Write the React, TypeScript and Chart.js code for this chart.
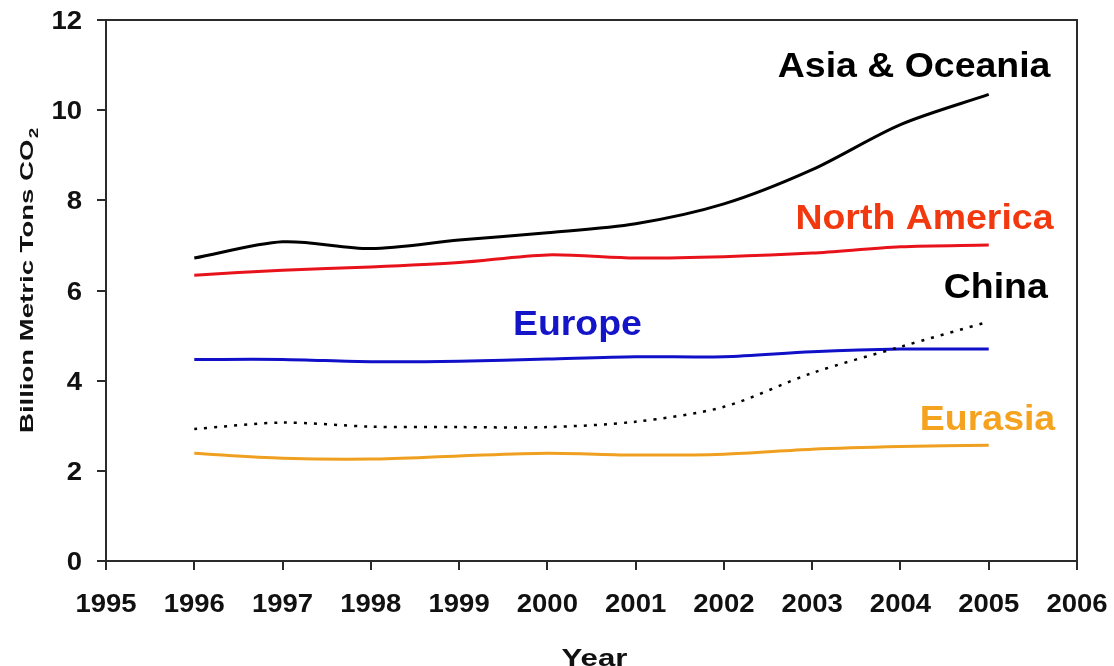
import React, { useEffect, useRef } from 'react';
import { Chart, registerables } from 'chart.js';

Chart.register(...registerables);

// ---- Data (billion metric tons CO2) ----
const years = [1996, 1997, 1998, 1999, 2000, 2001, 2002, 2003, 2004, 2005];
const asiaOceania = [6.72, 7.08, 6.93, 7.12, 7.28, 7.48, 7.92, 8.68, 9.68, 10.35];
const northAmerica = [6.34, 6.45, 6.52, 6.62, 6.79, 6.72, 6.75, 6.83, 6.97, 7.01];
const europe = [4.47, 4.47, 4.42, 4.43, 4.48, 4.53, 4.53, 4.64, 4.7, 4.7];
const china = [2.93, 3.07, 2.98, 2.97, 2.97, 3.09, 3.42, 4.17, 4.75, 5.31];
const eurasia = [2.39, 2.28, 2.26, 2.33, 2.39, 2.35, 2.37, 2.48, 2.54, 2.57];

const xMin = 1995;
const xMax = 2006;
const yMin = 0;
const yMax = 12;

// Series labels drawn inside the plot (anchored in data units)
const labelTexts = ['Asia & Oceania', 'North America', 'China', 'Europe', 'Eurasia'];
const labelYears = [2002.61, 2002.81, 2004.49, 1999.61, 2004.22];
const labelValues = [10.74, 7.36, 5.83, 5.01, 2.91];
const labelColors = ['#000000', '#F2380F', '#000000', '#1414C8', '#F5A21E'];

const lineColors = ['#000000', '#E8121A', '#000000', '#1010C8', '#F0A020'];

const FONT = '"Liberation Sans", Arial, sans-serif';
const AXIS_COLOR = '#2b2b2b';

function drawScaled(ctx: CanvasRenderingContext2D, text: string, x: number, y: number, sx: number, align: 'left' | 'center' | 'right') {
  const w = ctx.measureText(text).width * sx;
  let startX = x;
  if (align === 'center') startX = x - w / 2;
  if (align === 'right') startX = x - w;
  ctx.save();
  ctx.translate(startX, y);
  ctx.scale(sx, 1);
  ctx.textAlign = 'left';
  ctx.fillText(text, 0, 0);
  ctx.restore();
}

const decorPlugin = {
  id: 'decor',
  afterDraw(chart: any) {
    const ctx: CanvasRenderingContext2D = chart.ctx;
    const { left, right, top, bottom } = chart.chartArea;
    const xs = chart.scales.x;
    const ys = chart.scales.y;
    ctx.save();
    // plot box
    ctx.strokeStyle = AXIS_COLOR;
    ctx.lineWidth = 2;
    ctx.strokeRect(left, top, right - left, bottom - top);

    // tick labels
    ctx.fillStyle = '#111111';
    ctx.font = `bold 25px ${FONT}`;
    ctx.textBaseline = 'alphabetic';
    xs.ticks.forEach((t: any) => {
      const px = xs.getPixelForValue(t.value);
      drawScaled(ctx, String(t.value), px, bottom + 51, 1.1, 'center');
    });
    ys.ticks.forEach((t: any) => {
      const py = ys.getPixelForValue(t.value);
      drawScaled(ctx, String(t.value), left - 24, py + 9, 1.1, 'right');
    });

    // series labels
    ctx.font = `bold 35px ${FONT}`;
    labelTexts.forEach((txt, i) => {
      ctx.fillStyle = labelColors[i];
      const px = xs.getPixelForValue(labelYears[i]);
      const py = ys.getPixelForValue(labelValues[i]);
      drawScaled(ctx, txt, px, py, 1.07, 'left');
    });

    // x-axis title
    ctx.fillStyle = '#111111';
    ctx.font = `bold 24px ${FONT}`;
    drawScaled(ctx, 'Year', (left + right) / 2 + 3, bottom + 105, 1.3, 'center');

    // y-axis title (rotated, with subscript)
    ctx.save();
    ctx.translate(left - 73, bottom - 128);
    ctx.rotate(-Math.PI / 2);
    ctx.scale(1.45, 1);
    ctx.font = `bold 19px ${FONT}`;
    ctx.textAlign = 'left';
    const main = 'Billion Metric Tons CO';
    ctx.fillText(main, 0, 0);
    const w = ctx.measureText(main).width;
    ctx.font = `bold 13px ${FONT}`;
    ctx.fillText('2', w + 1, 5);
    ctx.restore();

    ctx.restore();
  },
};

function toPoints(vals: number[]) {
  return years.map((yr, i) => ({ x: yr, y: vals[i] }));
}

export default function App() {
  const canvasRef = useRef<HTMLCanvasElement | null>(null);

  useEffect(() => {
    if (!canvasRef.current) return;
    const chart = new Chart(canvasRef.current, {
      type: 'line',
      data: {
        datasets: [
          { label: 'Asia & Oceania', data: toPoints(asiaOceania), borderColor: lineColors[0], borderWidth: 3 },
          { label: 'North America', data: toPoints(northAmerica), borderColor: lineColors[1], borderWidth: 3 },
          { label: 'China', data: toPoints(china), borderColor: lineColors[2], borderWidth: 2.5, borderDash: [3, 7] },
          { label: 'Europe', data: toPoints(europe), borderColor: lineColors[3], borderWidth: 3 },
          { label: 'Eurasia', data: toPoints(eurasia), borderColor: lineColors[4], borderWidth: 3 },
        ],
      },
      options: {
        responsive: false,
        animation: false,
        layout: { padding: { top: 20, right: 37, left: 0, bottom: 0 } },
        elements: {
          point: { radius: 0, hoverRadius: 0 },
          line: { tension: 0.3, fill: false },
        },
        plugins: {
          legend: { display: false },
          tooltip: { enabled: false },
          title: { display: false },
        },
        scales: {
          x: {
            type: 'linear',
            min: xMin,
            max: xMax,
            ticks: { stepSize: 1, display: false },
            grid: { drawOnChartArea: false, drawTicks: true, tickLength: 9, color: AXIS_COLOR, lineWidth: 2 },
            border: { display: true, color: AXIS_COLOR, width: 2 },
            afterFit: (s: any) => { s.height = 105; },
          },
          y: {
            type: 'linear',
            min: yMin,
            max: yMax,
            ticks: { stepSize: 2, display: false },
            grid: { drawOnChartArea: false, drawTicks: true, tickLength: 9, color: AXIS_COLOR, lineWidth: 2 },
            border: { display: true, color: AXIS_COLOR, width: 2 },
            afterFit: (s: any) => { s.width = 106; },
          },
        },
      },
      plugins: [decorPlugin],
    } as any);
    return () => chart.destroy();
  }, []);

  return (
    <div style={{ position: 'fixed', left: 0, top: 0, width: 1114, height: 666, background: '#ffffff' }}>
      <canvas ref={canvasRef} width={1114} height={666} style={{ display: 'block' }} />
    </div>
  );
}
